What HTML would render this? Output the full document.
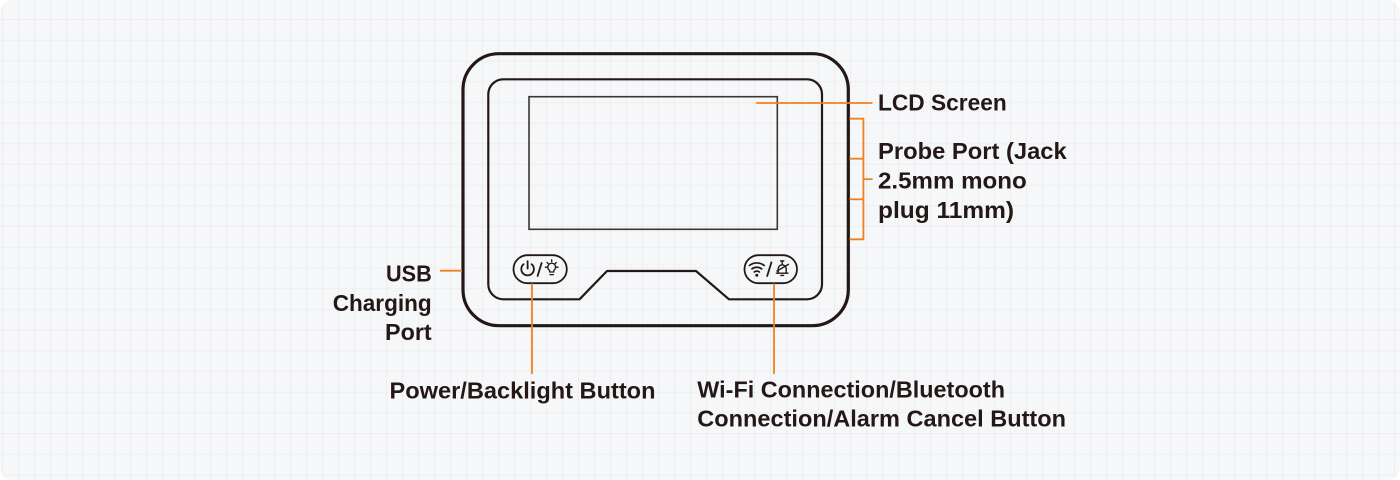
<!DOCTYPE html>
<html>
<head>
<meta charset="utf-8">
<style>
  html,body{margin:0;padding:0;background:#ffffff;}
  body{width:1400px;height:480px;overflow:hidden;}
  svg{display:block;}
  text{font-family:"Liberation Sans",Arial,sans-serif;font-weight:bold;font-size:23.5px;fill:#231815;}
</style>
</head>
<body>
<svg width="1400" height="480" viewBox="0 0 1400 480" xmlns="http://www.w3.org/2000/svg">
  <defs>
    <pattern id="gv" x="3" y="0" width="16" height="480" patternUnits="userSpaceOnUse">
      <rect x="15.3" y="0" width="1.4" height="480" fill="#eaebee"/>
    </pattern>
    <pattern id="gh" x="0" y="-0.7" width="1400" height="20.7" patternUnits="userSpaceOnUse">
      <rect x="0" y="20" width="1400" height="1.4" fill="#eaebee"/>
    </pattern>
    <clipPath id="card"><rect x="0" y="0" width="1400" height="480" rx="13"/></clipPath>
  </defs>

  <g clip-path="url(#card)">
    <rect x="0" y="0" width="1400" height="480" fill="#f6f7f9"/>
    <rect x="0" y="0" width="1400" height="480" fill="url(#gv)"/>
    <rect x="0" y="0" width="1400" height="480" fill="url(#gh)"/>
  </g>

  <!-- Device outer -->
  <rect x="463" y="53.7" width="385.3" height="272" rx="36" ry="36" fill="none" stroke="#231815" stroke-width="3.2"/>
  <!-- Device inner with notch -->
  <path d="M503.3 79.3 H807 A15 15 0 0 1 822 94.3 V284.3 A15 15 0 0 1 807 299.3 H729 L696 271 H607 L579.5 299.3 H503.3 A15 15 0 0 1 488.3 284.3 V94.3 A15 15 0 0 1 503.3 79.3 Z" fill="none" stroke="#231815" stroke-width="2.2" stroke-linejoin="round"/>
  <!-- Screen -->
  <rect x="529" y="96.7" width="248.3" height="132.6" fill="none" stroke="#3b3534" stroke-width="1.6"/>

  <!-- Left pill button -->
  <rect x="513.5" y="255.2" width="53.3" height="28" rx="14" ry="14" fill="none" stroke="#231815" stroke-width="1.8"/>
  <!-- power icon -->
  <path d="M523.6 264.2 A6.3 6.3 0 1 0 531.6 264.2" fill="none" stroke="#231815" stroke-width="1.8" stroke-linecap="round"/>
  <line x1="527.6" y1="261.2" x2="527.6" y2="268.6" stroke="#231815" stroke-width="1.8" stroke-linecap="round"/>
  <line x1="537.6" y1="276" x2="541.6" y2="263" stroke="#231815" stroke-width="1.8" stroke-linecap="round"/>
  <!-- bulb icon -->
  <g stroke="#231815" stroke-width="1.3" fill="none" stroke-linecap="round">
    <path d="M549.6 272 V270.4 A3.9 3.9 0 1 1 553.8 270.4 V272 Z"/>
    <line x1="550" y1="274.6" x2="553.4" y2="274.6"/>
    <line x1="551.7" y1="259.8" x2="551.7" y2="261.6"/>
    <line x1="545.4" y1="267.2" x2="547.2" y2="267.2"/>
    <line x1="556.2" y1="267.2" x2="558" y2="267.2"/>
    <line x1="547.1" y1="262.5" x2="548.3" y2="263.7"/>
    <line x1="556.3" y1="262.5" x2="555.1" y2="263.7"/>
  </g>

  <!-- Right pill button -->
  <rect x="744.5" y="255.2" width="52.5" height="28" rx="14" ry="14" fill="none" stroke="#231815" stroke-width="1.8"/>
  <!-- wifi icon -->
  <g stroke="#231815" stroke-width="1.7" fill="none" stroke-linecap="round">
    <path d="M749.4 265.5 A12 12 0 0 1 764.2 265.5"/>
    <path d="M751.9 268.9 A8 8 0 0 1 761.7 268.9"/>
    <path d="M754.2 272 A4.2 4.2 0 0 1 759.4 272"/>
  </g>
  <circle cx="756.8" cy="275.3" r="1.5" fill="#231815"/>
  <line x1="767.2" y1="276" x2="771.4" y2="262.4" stroke="#231815" stroke-width="1.8" stroke-linecap="round"/>
  <!-- bell with slash -->
  <g stroke="#231815" stroke-width="1.4" fill="none" stroke-linecap="round" stroke-linejoin="round">
    <path d="M778.2 273.2 V268.8 A4 4 0 0 1 786.2 268.8 V273.2"/>
    <line x1="776.4" y1="273.2" x2="788" y2="273.2"/>
    <line x1="782.2" y1="261" x2="782.2" y2="264.8"/>
    <line x1="780.6" y1="261" x2="783.8" y2="261"/>
    <path d="M780.8 275.4 H783.6"/>
    <line x1="777" y1="271" x2="788.4" y2="264.4"/>
  </g>

  <!-- Orange leader lines -->
  <g stroke="#f0821e" stroke-width="1.8" fill="none">
    <line x1="756" y1="103" x2="872.5" y2="103"/>
    <path d="M849.5 118.7 H863.4 V239.3 H849.5"/>
    <line x1="849.5" y1="158.7" x2="863.4" y2="158.7"/>
    <line x1="849.5" y1="199.3" x2="863.4" y2="199.3"/>
    <line x1="863.4" y1="179.2" x2="872.5" y2="179.2"/>
    <line x1="440" y1="270.7" x2="462" y2="270.7"/>
    <line x1="532" y1="283.5" x2="532" y2="374"/>
    <line x1="774" y1="283.5" x2="774" y2="374"/>
  </g>

  <!-- Labels -->
  <text x="878" y="110.7" textLength="128.7" lengthAdjust="spacingAndGlyphs">LCD Screen</text>
  <text x="878" y="159" textLength="188.7" lengthAdjust="spacingAndGlyphs">Probe Port (Jack</text>
  <text x="878" y="188.5" textLength="148.7" lengthAdjust="spacingAndGlyphs">2.5mm mono</text>
  <text x="878" y="218" textLength="136" lengthAdjust="spacingAndGlyphs">plug 11mm)</text>

  <text x="386" y="281.7" textLength="45.7" lengthAdjust="spacingAndGlyphs">USB</text>
  <text x="332.7" y="311" textLength="99" lengthAdjust="spacingAndGlyphs">Charging</text>
  <text x="385" y="340" textLength="46.7" lengthAdjust="spacingAndGlyphs">Port</text>

  <text x="389.5" y="398.3" textLength="266" lengthAdjust="spacingAndGlyphs">Power/Backlight Button</text>
  <text x="697.3" y="397.7" textLength="307.7" lengthAdjust="spacingAndGlyphs">Wi-Fi Connection/Bluetooth</text>
  <text x="697.3" y="426.7" textLength="368.7" lengthAdjust="spacingAndGlyphs">Connection/Alarm Cancel Button</text>
</svg>
</body>
</html>
